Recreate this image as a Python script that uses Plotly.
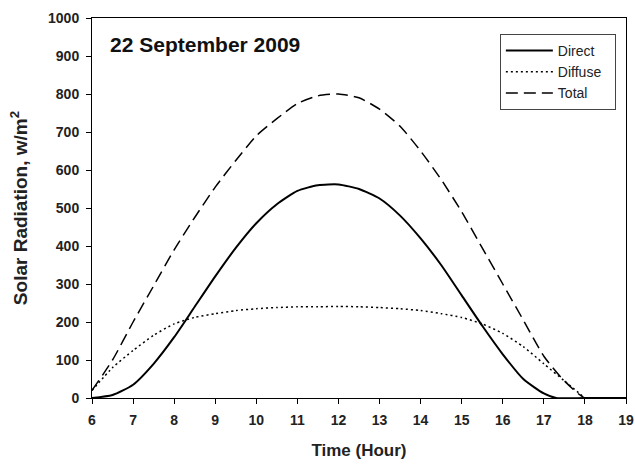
import plotly.graph_objects as go

hours_direct = [6, 6.5, 7, 7.5, 8, 8.5, 9, 9.5, 10, 10.5, 11, 11.5, 12, 12.5, 13, 13.5, 14, 14.5, 15, 15.5, 16, 16.5, 17, 17.3, 18, 19]
direct = [0, 8, 35, 90, 160, 240, 320, 395, 460, 510, 545, 560, 562, 550, 525, 480, 420, 350, 270, 190, 115, 50, 12, 0, 0, 0]

hours_diffuse = [6, 6.5, 7, 7.5, 8, 8.5, 9, 9.5, 10, 10.5, 11, 11.5, 12, 12.5, 13, 13.5, 14, 14.5, 15, 15.5, 16, 16.5, 17, 17.5, 18]
diffuse = [20, 80, 125, 165, 195, 212, 222, 230, 235, 238, 240, 240, 241, 240, 238, 235, 230, 222, 212, 195, 170, 135, 90, 45, 0]

hours_total = [6, 6.5, 7, 7.5, 8, 8.5, 9, 9.5, 10, 10.5, 11, 11.5, 12, 12.5, 13, 13.5, 14, 14.5, 15, 15.5, 16, 16.5, 17, 17.5, 18, 19]
total = [20, 100, 200, 295, 390, 475, 555, 625, 690, 735, 775, 795, 800, 790, 760, 715, 650, 575, 490, 395, 300, 205, 110, 45, 0, 0]

series_names = ["Direct", "Diffuse", "Total"]

x_ticks = list(range(6, 20))
y_ticks = list(range(0, 1001, 100))

font = "Liberation Sans, Arial, sans-serif"
pad = "&nbsp;&nbsp;"

fig = go.Figure()
fig.add_trace(go.Scatter(x=hours_direct, y=direct, mode="lines", name=series_names[0] + pad,
                         line=dict(color="black", width=2, shape="spline", smoothing=0.6)))
fig.add_trace(go.Scatter(x=hours_diffuse, y=diffuse, mode="lines", name=series_names[1] + pad,
                         line=dict(color="black", width=1.5, dash="2px,3px", shape="spline", smoothing=0.6)))
fig.add_trace(go.Scatter(x=hours_total, y=total, mode="lines", name=series_names[2] + pad,
                         line=dict(color="black", width=1.5, dash="12px,6px", shape="spline", smoothing=0.6)))

axis_common = dict(showline=True, linecolor="black", linewidth=1, mirror=True,
                   ticks="outside", ticklen=5, tickcolor="black", showgrid=False, zeroline=False,
                   ticklabelstandoff=4, automargin=False,
                   tickfont=dict(family=font, size=14, color="#222", weight="bold"))

fig.update_layout(
    width=635, height=464,
    margin=dict(l=92, r=9, t=18, b=66),
    paper_bgcolor="white", plot_bgcolor="white",
    font=dict(family=font, color="#222"),
    xaxis=dict(range=[6, 19], tickvals=x_ticks,
               title=dict(text="<b>Time (Hour)</b>", font=dict(size=17), standoff=17),
               **axis_common),
    yaxis=dict(range=[0, 1000], tickvals=y_ticks,
               title=dict(text="<b>Solar Radiation, w/m<sup>2</sup></b>", font=dict(size=19), standoff=15),
               **axis_common),
    legend=dict(x=0.981, y=0.958, xanchor="right", yanchor="top",
                bordercolor="#444", borderwidth=1, bgcolor="white",
                font=dict(size=14, family=font, color="#222"),
                itemwidth=47, tracegroupgap=0),
    showlegend=True,
)
fig.add_annotation(text="<b>22 September 2009</b>", x=0.03, y=0.965, xref="paper", yref="paper",
                   xanchor="left", yanchor="top", showarrow=False,
                   font=dict(size=21, family=font, color="#111"))

fig.write_html("out.html")
